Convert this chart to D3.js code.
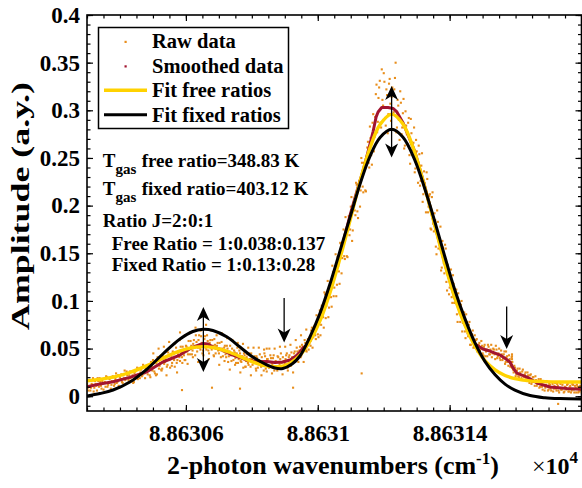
<!DOCTYPE html>
<html><head><meta charset="utf-8">
<script src="https://cdn.jsdelivr.net/npm/d3@7"></script>
<style>
body{margin:0;background:#fff}
svg{display:block}
text{font-family:"Liberation Serif","Times New Roman",serif;font-weight:bold;fill:#000}
</style></head>
<body><svg id="chart" width="582" height="488"></svg>
<script>
// ---------- data (x in cm^-1, y in a.u.) ----------
const xDomain = [88630.3, 88631.8];
const yDomain = [-0.0155, 0.4];
const xTickValues = [88630.6, 88631.0, 88631.4];
const xTickLabels = ["8.86306", "8.8631", "8.86314"];
const yTickValues = [0, 0.05, 0.1, 0.15, 0.2, 0.25, 0.3, 0.35, 0.4];
const yTickLabels = ["0", "0.05", "0.1", "0.15", "0.2", "0.25", "0.3", "0.35", "0.4"];

const rawData = [
[88630.300,.013],[88630.304,.006],[88630.308,.017],[88630.312,.009],[88630.316,.012],[88630.320,.005],[88630.324,.016],[88630.328,.011],[88630.332,.019],[88630.336,.010],[88630.340,.015],[88630.344,.008],[88630.348,.018],[88630.352,.014],[88630.356,.010],[88630.360,.020],[88630.364,.012],[88630.368,.018],[88630.372,.008],[88630.376,.016],[88630.380,.020],[88630.384,.013],[88630.388,.024],[88630.392,.015],[88630.396,.011],[88630.400,.020],[88630.404,.023],[88630.408,.014],[88630.412,.019],[88630.416,.017],[88630.420,.026],[88630.424,.014],[88630.428,.022],[88630.432,.019],[88630.436,.026],[88630.440,.014],[88630.444,.024],[88630.448,.019],[88630.452,.030],[88630.456,.023],[88630.460,.019],[88630.464,.028],[88630.468,.022],[88630.472,.031],[88630.476,.019],[88630.480,.027],
[88630.302,.009],[88630.306,.016],[88630.310,.006],[88630.314,.013],[88630.318,.019],[88630.322,.009],[88630.326,.013],[88630.330,.006],[88630.334,.016],[88630.338,.019],[88630.342,.011],[88630.346,.016],[88630.350,.007],[88630.354,.015],[88630.358,.021],[88630.362,.010],[88630.366,.014],[88630.370,.019],[88630.374,.012],[88630.378,.021],[88630.382,.011],[88630.386,.018],[88630.390,.014],[88630.394,.022],[88630.398,.009],[88630.402,.018],[88630.406,.015],[88630.410,.022],[88630.414,.027],[88630.418,.013],[88630.422,.022],[88630.426,.017],[88630.430,.026],[88630.434,.016],[88630.438,.022],[88630.442,.015],[88630.446,.026],[88630.450,.021],[88630.454,.018],[88630.458,.029],[88630.462,.025],[88630.466,.021],[88630.470,.033],[88630.474,.024],[88630.478,.029],
[88630.484,.023],[88630.488,.033],[88630.492,.020],[88630.496,.031],[88630.500,.038],[88630.504,.026],[88630.508,.032],[88630.512,.023],[88630.516,.038],[88630.520,.032],[88630.524,.041],[88630.528,.029],[88630.532,.039],[88630.536,.036],[88630.540,.047],[88630.544,.033],[88630.548,.042],[88630.552,.030],[88630.556,.041],[88630.560,.047],[88630.564,.038],[88630.568,.046],[88630.572,.035],[88630.576,.044],[88630.580,.041],[88630.584,.052],[88630.588,.041],[88630.592,.048],[88630.596,.038],[88630.600,.053],[88630.604,.047],[88630.608,.058],[88630.612,.044],[88630.616,.053],[88630.620,.048],[88630.624,.059],[88630.628,.043],[88630.632,.057],[88630.636,.051],[88630.640,.064],[88630.644,.049],[88630.648,.056],[88630.652,.048],
[88630.486,.030],[88630.490,.022],[88630.494,.036],[88630.498,.027],[88630.502,.035],[88630.506,.024],[88630.510,.035],[88630.514,.041],[88630.518,.029],[88630.522,.035],[88630.526,.027],[88630.530,.042],[88630.534,.034],[88630.538,.039],[88630.542,.031],[88630.546,.046],[88630.550,.038],[88630.554,.044],[88630.558,.035],[88630.562,.044],[88630.566,.031],[88630.570,.051],[88630.574,.038],[88630.578,.047],[88630.582,.037],[88630.586,.046],[88630.590,.052],[88630.594,.043],[88630.598,.038],[88630.602,.052],[88630.606,.044],[88630.610,.050],[88630.614,.058],[88630.618,.044],[88630.622,.055],[88630.626,.051],[88630.630,.064],[88630.634,.047],[88630.638,.059],[88630.642,.051],[88630.646,.063],[88630.650,.045],
[88630.656,.060],[88630.660,.051],[88630.664,.064],[88630.668,.048],[88630.672,.056],[88630.676,.051],[88630.680,.059],[88630.684,.043],[88630.688,.054],[88630.692,.050],[88630.696,.056],[88630.700,.045],[88630.704,.050],[88630.708,.057],[88630.712,.042],[88630.716,.051],[88630.720,.044],[88630.724,.053],[88630.728,.036],[88630.732,.047],[88630.736,.043],[88630.740,.050],[88630.744,.038],[88630.748,.046],[88630.752,.035],[88630.756,.051],[88630.760,.039],[88630.764,.045],[88630.768,.036],[88630.772,.041],[88630.776,.045],[88630.780,.031],[88630.784,.041],[88630.788,.035],[88630.792,.045],[88630.796,.031],[88630.800,.039],[88630.804,.036],[88630.808,.042],[88630.812,.029],[88630.816,.040],[88630.820,.034],[88630.824,.044],[88630.828,.031],[88630.832,.037],[88630.836,.027],[88630.840,.042],[88630.844,.033],[88630.848,.039],[88630.852,.030],[88630.856,.043],[88630.860,.035],[88630.864,.040],[88630.868,.027],[88630.872,.037],[88630.876,.031],[88630.880,.041],[88630.884,.034],[88630.888,.045],[88630.892,.030],[88630.896,.037],[88630.900,.034],[88630.904,.043],[88630.908,.030],[88630.912,.041],[88630.916,.037],[88630.920,.046],[88630.924,.035],[88630.928,.045],[88630.932,.040],[88630.936,.051],[88630.940,.040],[88630.944,.048],[88630.948,.041],[88630.952,.054],[88630.956,.048],[88630.960,.059],[88630.964,.048],[88630.968,.057],[88630.972,.049],[88630.976,.062],
[88630.654,.053],[88630.658,.063],[88630.662,.049],[88630.666,.058],[88630.670,.045],[88630.674,.059],[88630.678,.049],[88630.682,.053],[88630.686,.060],[88630.690,.045],[88630.694,.053],[88630.698,.048],[88630.702,.056],[88630.706,.041],[88630.710,.050],[88630.714,.047],[88630.718,.053],[88630.722,.041],[88630.726,.050],[88630.730,.042],[88630.734,.053],[88630.738,.037],[88630.742,.044],[88630.746,.048],[88630.750,.040],[88630.754,.045],[88630.758,.035],[88630.762,.048],[88630.766,.037],[88630.770,.042],[88630.774,.030],[88630.778,.043],[88630.782,.037],[88630.786,.044],[88630.790,.033],[88630.794,.039],[88630.798,.045],[88630.802,.033],[88630.806,.040],[88630.810,.035],[88630.814,.042],[88630.818,.030],[88630.822,.038],[88630.826,.035],[88630.830,.041],[88630.834,.032],[88630.838,.045],[88630.842,.029],[88630.846,.039],[88630.850,.036],[88630.854,.031],[88630.858,.040],[88630.862,.034],[88630.866,.043],[88630.870,.031],[88630.874,.036],[88630.878,.042],[88630.882,.029],[88630.886,.039],[88630.890,.035],[88630.894,.041],[88630.898,.032],[88630.902,.039],[88630.906,.045],[88630.910,.034],[88630.914,.043],[88630.918,.032],[88630.922,.041],[88630.926,.039],[88630.930,.047],[88630.934,.038],[88630.938,.047],[88630.942,.043],[88630.946,.052],[88630.950,.043],[88630.954,.052],[88630.958,.050],[88630.962,.056],[88630.966,.047],[88630.970,.060],[88630.974,.055],
[88630.501,.045],[88630.509,.022],[88630.517,.050],[88630.525,.028],[88630.533,.052],[88630.541,.022],[88630.549,.057],[88630.557,.032],[88630.565,.055],[88630.573,.025],[88630.581,.059],[88630.589,.035],[88630.597,.064],[88630.605,.034],[88630.613,.067],[88630.621,.041],[88630.629,.072],[88630.637,.036],[88630.645,.069],[88630.653,.043],[88630.661,.075],[88630.669,.039],[88630.677,.069],[88630.685,.042],[88630.693,.064],[88630.701,.033],[88630.709,.066],[88630.717,.037],[88630.725,.061],[88630.733,.028],[88630.741,.059],[88630.749,.033],[88630.757,.056],[88630.765,.025],[88630.773,.055],[88630.781,.031],[88630.789,.051],[88630.797,.022],[88630.805,.051],[88630.813,.027],[88630.821,.051],[88630.829,.022],[88630.837,.049],[88630.845,.026],[88630.853,.050],[88630.861,.024],[88630.869,.050],[88630.877,.027],[88630.885,.052],[88630.893,.023],[88630.901,.052],[88630.909,.027],[88630.917,.054],[88630.925,.025],[88630.933,.059],[88630.941,.036],[88630.949,.064],[88630.957,.036],[88630.965,.070],
[88630.980,.069],[88630.984,.051],[88630.988,.070],[88630.992,.064],[88630.996,.085],[88631.000,.065],[88631.004,.079],[88631.008,.064],[88631.012,.095],[88631.016,.083],[88631.020,.109],[88631.024,.082],[88631.028,.105],[88631.032,.083],[88631.036,.115],[88631.040,.104],[88631.044,.137],[88631.048,.105],[88631.052,.127],[88631.056,.105],[88631.060,.146],[88631.064,.131],[88631.068,.161],[88631.072,.129],[88631.076,.159],[88631.080,.147],[88631.084,.188],[88631.088,.147],[88631.092,.177],[88631.096,.169],[88631.100,.199],[88631.104,.163],[88631.108,.203],[88631.112,.195],[88631.116,.224],[88631.120,.194],[88631.124,.219],[88631.128,.199],[88631.132,.250],[88631.136,.220],[88631.140,.245],[88631.144,.216],[88631.148,.246],[88631.152,.267],[88631.156,.240],[88631.160,.271],[88631.164,.243],[88631.168,.296],[88631.172,.272],[88631.176,.317],[88631.180,.277],[88631.184,.313],[88631.188,.331],[88631.192,.282],[88631.196,.311],[88631.200,.339],[88631.204,.292],[88631.208,.322],[88631.212,.276],[88631.216,.328],[88631.220,.307],[88631.224,.314],[88631.228,.280],[88631.232,.322],[88631.236,.350],[88631.240,.282],[88631.244,.305],[88631.248,.269],[88631.252,.308],[88631.256,.282],[88631.260,.312],[88631.264,.263],[88631.268,.284],[88631.272,.264],[88631.276,.292],[88631.280,.244],[88631.284,.276],[88631.288,.258],[88631.292,.282],[88631.296,.239],[88631.300,.257],[88631.304,.224],[88631.308,.254],[88631.312,.226],[88631.316,.255],[88631.320,.212],[88631.324,.224],[88631.328,.193],[88631.332,.228],[88631.336,.199],[88631.340,.212],[88631.344,.175],[88631.348,.214],[88631.352,.173],[88631.356,.185],[88631.360,.149],[88631.364,.183],[88631.368,.160],[88631.372,.178],[88631.376,.135],[88631.380,.156],[88631.384,.129],[88631.388,.155],[88631.392,.111],[88631.396,.131],[88631.400,.114],[88631.404,.133],[88631.408,.098],[88631.412,.118],[88631.416,.098],[88631.420,.112],[88631.424,.078],[88631.428,.098],[88631.432,.078],[88631.436,.100],[88631.440,.077],[88631.444,.088],[88631.448,.061],[88631.452,.078],[88631.456,.063],[88631.460,.078],[88631.464,.054],[88631.468,.065],[88631.472,.051],[88631.476,.064],
[88630.978,.053],[88630.982,.072],[88630.986,.062],[88630.990,.074],[88630.994,.060],[88630.998,.078],[88631.002,.062],[88631.006,.090],[88631.010,.075],[88631.014,.089],[88631.018,.072],[88631.022,.107],[88631.026,.095],[88631.030,.121],[88631.034,.093],[88631.038,.113],[88631.042,.094],[88631.046,.130],[88631.050,.114],[88631.054,.149],[88631.058,.117],[88631.062,.137],[88631.066,.118],[88631.070,.160],[88631.074,.145],[88631.078,.175],[88631.082,.144],[88631.086,.173],[88631.090,.146],[88631.094,.189],[88631.098,.175],[88631.102,.209],[88631.106,.174],[88631.110,.201],[88631.114,.190],[88631.118,.222],[88631.122,.187],[88631.126,.226],[88631.130,.216],[88631.134,.245],[88631.138,.214],[88631.142,.243],[88631.146,.215],[88631.150,.261],[88631.154,.245],[88631.158,.283],[88631.162,.253],[88631.166,.287],[88631.170,.257],[88631.174,.293],[88631.178,.327],[88631.182,.288],[88631.186,.324],[88631.190,.287],[88631.194,.343],[88631.198,.305],[88631.202,.330],[88631.206,.284],[88631.210,.316],[88631.214,.296],[88631.218,.333],[88631.222,.289],[88631.226,.324],[88631.230,.298],[88631.234,.334],[88631.238,.277],[88631.242,.311],[88631.246,.290],[88631.250,.320],[88631.254,.275],[88631.258,.297],[88631.262,.260],[88631.266,.299],[88631.270,.275],[88631.274,.287],[88631.278,.253],[88631.282,.291],[88631.286,.254],[88631.290,.266],[88631.294,.235],[88631.298,.269],[88631.302,.242],[88631.306,.263],[88631.310,.221],[88631.314,.242],[88631.318,.204],[88631.322,.236],[88631.326,.216],[88631.330,.235],[88631.334,.193],[88631.338,.210],[88631.342,.176],[88631.346,.209],[88631.350,.181],[88631.354,.192],[88631.358,.157],[88631.362,.195],[88631.366,.155],[88631.370,.165],[88631.374,.132],[88631.378,.163],[88631.382,.140],[88631.386,.159],[88631.390,.120],[88631.394,.138],[88631.398,.107],[88631.402,.123],[88631.406,.104],[88631.410,.127],[88631.414,.098],[88631.418,.109],[88631.422,.086],[88631.426,.108],[88631.430,.087],[88631.434,.096],[88631.438,.068],[88631.442,.084],[88631.446,.068],[88631.450,.086],[88631.454,.066],[88631.458,.075],[88631.462,.054],[88631.466,.064],[88631.470,.069],[88631.474,.052],
[88631.480,.059],[88631.484,.047],[88631.488,.054],[88631.492,.048],[88631.496,.058],[88631.500,.045],[88631.504,.052],[88631.508,.042],[88631.512,.049],[88631.516,.054],[88631.520,.044],[88631.524,.049],[88631.528,.041],[88631.532,.050],[88631.536,.044],[88631.540,.053],[88631.544,.040],[88631.548,.045],[88631.552,.040],[88631.556,.048],[88631.560,.038],[88631.564,.044],[88631.568,.034],[88631.572,.041],[88631.576,.036],[88631.580,.043],[88631.584,.031],[88631.588,.041],[88631.592,.028],[88631.596,.032],[88631.600,.021],[88631.604,.027],[88631.608,.021],[88631.612,.029],[88631.616,.022],[88631.620,.026],[88631.624,.017],[88631.628,.023],[88631.632,.018],[88631.636,.025],[88631.640,.017],[88631.644,.022],[88631.648,.013],[88631.652,.020],[88631.656,.015],[88631.660,.021],[88631.664,.011],[88631.668,.016],[88631.672,.009],[88631.676,.018],[88631.680,.010],[88631.684,.015],[88631.688,.006],[88631.692,.012],[88631.696,.015],[88631.700,.007],[88631.704,.012],[88631.708,.006],[88631.712,.013],[88631.716,.008],[88631.720,.014],[88631.724,.006],[88631.728,.011],[88631.732,.004],[88631.736,.013],[88631.740,.007],[88631.744,.015],[88631.748,.005],[88631.752,.009],[88631.756,.012],[88631.760,.005],[88631.764,.010],[88631.768,.004],[88631.772,.013],[88631.776,.007],[88631.780,.011],[88631.784,.004],[88631.788,.010],[88631.792,.005],[88631.796,.011],[88631.800,.004],
[88631.478,.051],[88631.482,.060],[88631.486,.048],[88631.490,.056],[88631.494,.050],[88631.498,.053],[88631.502,.043],[88631.506,.054],[88631.510,.047],[88631.514,.042],[88631.518,.052],[88631.522,.044],[88631.526,.054],[88631.530,.045],[88631.534,.049],[88631.538,.039],[88631.542,.049],[88631.546,.042],[88631.550,.050],[88631.554,.038],[88631.558,.044],[88631.562,.040],[88631.566,.047],[88631.570,.036],[88631.574,.042],[88631.578,.032],[88631.582,.039],[88631.586,.032],[88631.590,.036],[88631.594,.025],[88631.598,.030],[88631.602,.023],[88631.606,.029],[88631.610,.020],[88631.614,.025],[88631.618,.019],[88631.622,.028],[88631.626,.020],[88631.630,.025],[88631.634,.016],[88631.638,.022],[88631.642,.014],[88631.646,.023],[88631.650,.015],[88631.654,.020],[88631.658,.011],[88631.662,.017],[88631.666,.013],[88631.670,.018],[88631.674,.010],[88631.678,.015],[88631.682,.007],[88631.686,.016],[88631.690,.009],[88631.694,.016],[88631.698,.006],[88631.702,.013],[88631.706,.008],[88631.710,.015],[88631.714,.005],[88631.718,.011],[88631.722,.008],[88631.726,.013],[88631.730,.006],[88631.734,.015],[88631.738,.007],[88631.742,.012],[88631.746,.004],[88631.750,.010],[88631.754,.007],[88631.758,.013],[88631.762,.005],[88631.766,.011],[88631.770,.006],[88631.774,.012],[88631.778,.004],[88631.782,.009],[88631.786,.012],[88631.790,.004],[88631.794,.010],[88631.798,.006],
[88631.589,.030],[88631.589,.033],[88631.589,.036],[88631.589,.039],[88631.589,.042],[88631.589,.044],
[88630.588,.0065],[88630.679,.009],[88630.764,.008],[88630.925,.009],[88630.582,.067],[88631.133,.024],[88631.729,-.008],[88631.571,.047],[88630.845,.050]
];

const smoothedData = [
[88630.300,.0100],[88630.339,.0128],[88630.379,.0152],[88630.430,.0198],[88630.482,.0257],[88630.530,.0359],[88630.582,.0432],[88630.621,.0516],[88630.652,.0553],[88630.667,.0548],[88630.682,.0516],[88630.709,.0485],[88630.734,.0443],[88630.764,.0406],[88630.785,.0380],[88630.816,.0362],[88630.846,.0364],[88630.870,.0353],[88630.894,.0359],[88630.916,.0380],[88630.934,.0422],[88630.946,.0464],[88630.955,.0506],[88630.967,.0535],[88630.976,.0579],[88631.007,.0830],[88631.037,.1130],[88631.067,.1480],[88631.098,.1900],[88631.122,.2190],[88631.137,.2360],[88631.149,.2520],[88631.158,.2640],[88631.168,.2780],[88631.177,.2930],[88631.183,.2983],[88631.194,.3029],[88631.213,.3029],[88631.229,.3019],[88631.240,.2983],[88631.258,.2873],[88631.295,.2562],[88631.325,.2195],[88631.356,.1786],[88631.386,.1387],[88631.416,.1030],[88631.447,.0747],[88631.477,.0548],[88631.501,.0495],[88631.522,.0474],[88631.553,.0432],[88631.571,.0390],[88631.583,.0359],[88631.589,.0317],[88631.595,.0285],[88631.604,.0243],[88631.635,.0201],[88631.665,.0139],[88631.704,.0097],[88631.756,.0081],[88631.798,.0072]
];

const fitFree = [
[88630.300,.0163],[88630.339,.0177],[88630.379,.0200],[88630.430,.0249],[88630.482,.0321],[88630.530,.0399],[88630.582,.0475],[88630.621,.0511],[88630.652,.0520],[88630.682,.0511],[88630.734,.0459],[88630.785,.0385],[88630.834,.0325],[88630.885,.0311],[88630.916,.0347],[88630.946,.0430],[88630.976,.0576],[88631.007,.0793],[88631.037,.1087],[88631.067,.1443],[88631.098,.1846],[88631.128,.2249],[88631.158,.2601],[88631.189,.2850],[88631.224,.2960],[88631.258,.2858],[88631.295,.2550],[88631.325,.2186],[88631.356,.1780],[88631.386,.1381],[88631.416,.1028],[88631.447,.0740],[88631.477,.0525],[88631.507,.0374],[88631.538,.0277],[88631.568,.0218],[88631.598,.0184],[88631.644,.0161],[88631.689,.0153],[88631.735,.0150],[88631.800,.0150]
];

const fitFixed = [
[88630.300,.0002],[88630.339,.0028],[88630.379,.0065],[88630.430,.0149],[88630.482,.0285],[88630.530,.0443],[88630.582,.0600],[88630.621,.0679],[88630.652,.0702],[88630.682,.0689],[88630.725,.0621],[88630.764,.0516],[88630.803,.0411],[88630.840,.0338],[88630.870,.0296],[88630.894,.0291],[88630.922,.0338],[88630.946,.0422],[88630.976,.0621],[88631.007,.0873],[88631.037,.1177],[88631.067,.1520],[88631.098,.1879],[88631.128,.2224],[88631.158,.2514],[88631.189,.2714],[88631.224,.2800],[88631.258,.2719],[88631.295,.2473],[88631.325,.2174],[88631.356,.1821],[88631.386,.1458],[88631.416,.1112],[88631.447,.0809],[88631.477,.0560],[88631.507,.0366],[88631.538,.0225],[88631.568,.0127],[88631.598,.0065],[88631.644,.0007],[88631.689,-.0016],[88631.735,-.0025],[88631.800,-.0029]
];

const arrowMarks = [
  {x: 88630.653, from: .0936, to: .0254, both: true},
  {x: 88630.898, from: .1030, to: .0563, both: false},
  {x: 88631.224, from: .3255, to: .2505, both: true},
  {x: 88631.573, from: .0941, to: .0495, both: false}
];

const legendLabels = ["Raw data", "Smoothed data", "Fit free ratios", "Fit fixed ratios"];
const noteLines = [
  {main: "T", sub: "gas", rest: "free ratio=348.83 K"},
  {main: "T", sub: "gas", rest: "fixed ratio=403.12 K"},
  {text: "Ratio J=2:0:1"},
  {text: "Free Ratio = 1:0.038:0.137"},
  {text: "Fixed Ratio = 1:0.13:0.28"}
];

const COLORS = {raw: "#e88e1c", smooth: "#a2142f", free: "#ffd200", fixed: "#000000"};

// ---------- drawing ----------
const svg = d3.select("#chart");
const L = 87, R = 581.5, T = 15, B = 411;
const x = d3.scaleLinear().domain(xDomain).range([L, R]);
const y = d3.scaleLinear().domain(yDomain).range([B, T]);
const FONT = '"Liberation Serif","Times New Roman",serif';

svg.append("defs").append("clipPath").attr("id", "clip")
  .append("rect").attr("x", L).attr("y", T).attr("width", R - L).attr("height", B - T);

const plot = svg.append("g").attr("clip-path", "url(#clip)");

plot.append("g").selectAll("rect").data(rawData).join("rect")
  .attr("x", d => x(d[0]) - 1).attr("y", d => y(d[1]) - 1)
  .attr("width", 2.1).attr("height", 2.1).attr("fill", COLORS.raw);

const lin = d3.line().x(d => x(d[0])).y(d => y(d[1]));
const smoothLine = d3.line().x(d => x(d[0])).y(d => y(d[1])).curve(d3.curveCatmullRom.alpha(0.5));

plot.append("path").datum(smoothedData).attr("d", lin)
  .attr("fill", "none").attr("stroke", COLORS.smooth).attr("stroke-width", 3).attr("stroke-linejoin", "round");
plot.append("path").datum(fitFree).attr("d", smoothLine)
  .attr("fill", "none").attr("stroke", COLORS.free).attr("stroke-width", 3.4);
plot.append("path").datum(fitFixed).attr("d", smoothLine)
  .attr("fill", "none").attr("stroke", COLORS.fixed).attr("stroke-width", 3);

// arrows
function head(px, py, dir) { // dir = +1 pointing down, -1 pointing up
  const len = 14, hw = 6.5, notch = 10;
  return `M${px},${py} L${px - hw},${py - dir * len} L${px},${py - dir * notch} L${px + hw},${py - dir * len} Z`;
}
const ag = svg.append("g");
arrowMarks.forEach(a => {
  const px = x(a.x), y1 = y(a.from), y2 = y(a.to);
  ag.append("line").attr("x1", px).attr("x2", px)
    .attr("y1", a.both ? y1 + 8 : y1).attr("y2", y2 - 8)
    .attr("stroke", "#000").attr("stroke-width", 1.3);
  ag.append("path").attr("d", head(px, y2, 1)).attr("fill", "#000");
  if (a.both) ag.append("path").attr("d", head(px, y1, -1)).attr("fill", "#000");
});

// axes
const minorX = d3.range(0, 31).map(i => xDomain[0] + i * 0.05);
const minorY = d3.range(-1, 41).map(i => i * 0.01);
function styleAxis(g) { g.select(".domain").remove(); g.selectAll("line").attr("stroke-width", 1.2); }
svg.append("g").attr("transform", `translate(0,${B})`).call(d3.axisBottom(x).tickValues(minorX).tickSize(-3.5).tickFormat("")).call(styleAxis);
svg.append("g").attr("transform", `translate(0,${T})`).call(d3.axisTop(x).tickValues(minorX).tickSize(-3.5).tickFormat("")).call(styleAxis);
svg.append("g").attr("transform", `translate(${L},0)`).call(d3.axisLeft(y).tickValues(minorY).tickSize(-3.5).tickFormat("")).call(styleAxis);
svg.append("g").attr("transform", `translate(${R},0)`).call(d3.axisRight(y).tickValues(minorY).tickSize(-3.5).tickFormat("")).call(styleAxis);

const xAx = svg.append("g").attr("transform", `translate(0,${B})`)
  .call(d3.axisBottom(x).tickValues(xTickValues).tickSize(-6).tickPadding(14).tickFormat((d, i) => xTickLabels[i]))
  .call(styleAxis);
svg.append("g").attr("transform", `translate(0,${T})`).call(d3.axisTop(x).tickValues(xTickValues).tickSize(-6).tickFormat("")).call(styleAxis);
const yAx = svg.append("g").attr("transform", `translate(${L},0)`)
  .call(d3.axisLeft(y).tickValues(yTickValues).tickSize(-6).tickPadding(7).tickFormat((d, i) => yTickLabels[i]))
  .call(styleAxis);
svg.append("g").attr("transform", `translate(${R},0)`).call(d3.axisRight(y).tickValues(yTickValues).tickSize(-6).tickFormat("")).call(styleAxis);
[xAx, yAx].forEach(g => g.attr("font-family", FONT).attr("font-size", 23).attr("font-weight", "bold"));

svg.append("rect").attr("x", L).attr("y", T).attr("width", R - L).attr("height", B - T)
  .attr("fill", "none").attr("stroke", "#000").attr("stroke-width", 1.6);

// axis labels
const xl = svg.append("text").attr("x", 167).attr("y", 474).attr("font-size", 26);
xl.append("tspan").text("2-photon wavenumbers (cm");
xl.append("tspan").attr("dy", -10).attr("font-size", 17).text("-1");
xl.append("tspan").attr("dy", 10).text(")");
const ex = svg.append("text").attr("x", 532).attr("y", 474).attr("font-size", 24);
ex.append("tspan").attr("font-weight", "normal").text("\u00d7");
ex.append("tspan").text("10");
ex.append("tspan").attr("dy", -11).attr("font-size", 17).text("4");

svg.append("text").attr("transform", "translate(29,206) rotate(-90)")
  .attr("text-anchor", "middle").attr("font-size", 26)
  .attr("textLength", 248).attr("lengthAdjust", "spacingAndGlyphs")
  .text("Amplitude (a.y.)");

// legend
const lg = svg.append("g");
lg.append("rect").attr("x", 98.5).attr("y", 27.5).attr("width", 190).attr("height", 101)
  .attr("fill", "#fff").attr("stroke", "#000").attr("stroke-width", 1.5);
const rowY = [48.3, 72.8, 97.3, 121.7];
legendLabels.forEach((t, i) => {
  lg.append("text").attr("x", 152).attr("y", rowY[i]).attr("font-size", 20.5).text(t);
});
lg.append("rect").attr("x", 124.5).attr("y", rowY[0] - 7.5).attr("width", 2.2).attr("height", 2.2).attr("fill", COLORS.raw);
lg.append("rect").attr("x", 124.5).attr("y", rowY[1] - 7.5).attr("width", 2.2).attr("height", 2.2).attr("fill", COLORS.smooth);
lg.append("line").attr("x1", 104).attr("x2", 147).attr("y1", rowY[2] - 7).attr("y2", rowY[2] - 7).attr("stroke", COLORS.free).attr("stroke-width", 3.4);
lg.append("line").attr("x1", 104).attr("x2", 147).attr("y1", rowY[3] - 7).attr("y2", rowY[3] - 7).attr("stroke", COLORS.fixed).attr("stroke-width", 3);

// annotations
const ng = svg.append("g").attr("font-size", 19);
const noteY = [166.7, 195, 227, 250, 271];
noteLines.forEach((n, i) => {
  if (n.main) {
    ng.append("text").attr("x", 102.7).attr("y", noteY[i]).text(n.main);
    ng.append("text").attr("x", 115.5).attr("y", noteY[i] + 7.3).attr("font-size", 15).text(n.sub);
    ng.append("text").attr("x", 141.7).attr("y", noteY[i]).text(n.rest);
  } else {
    ng.append("text").attr("x", i === 2 ? 102.7 : 111.7).attr("y", noteY[i]).text(n.text);
  }
});
</script>
</body></html>
